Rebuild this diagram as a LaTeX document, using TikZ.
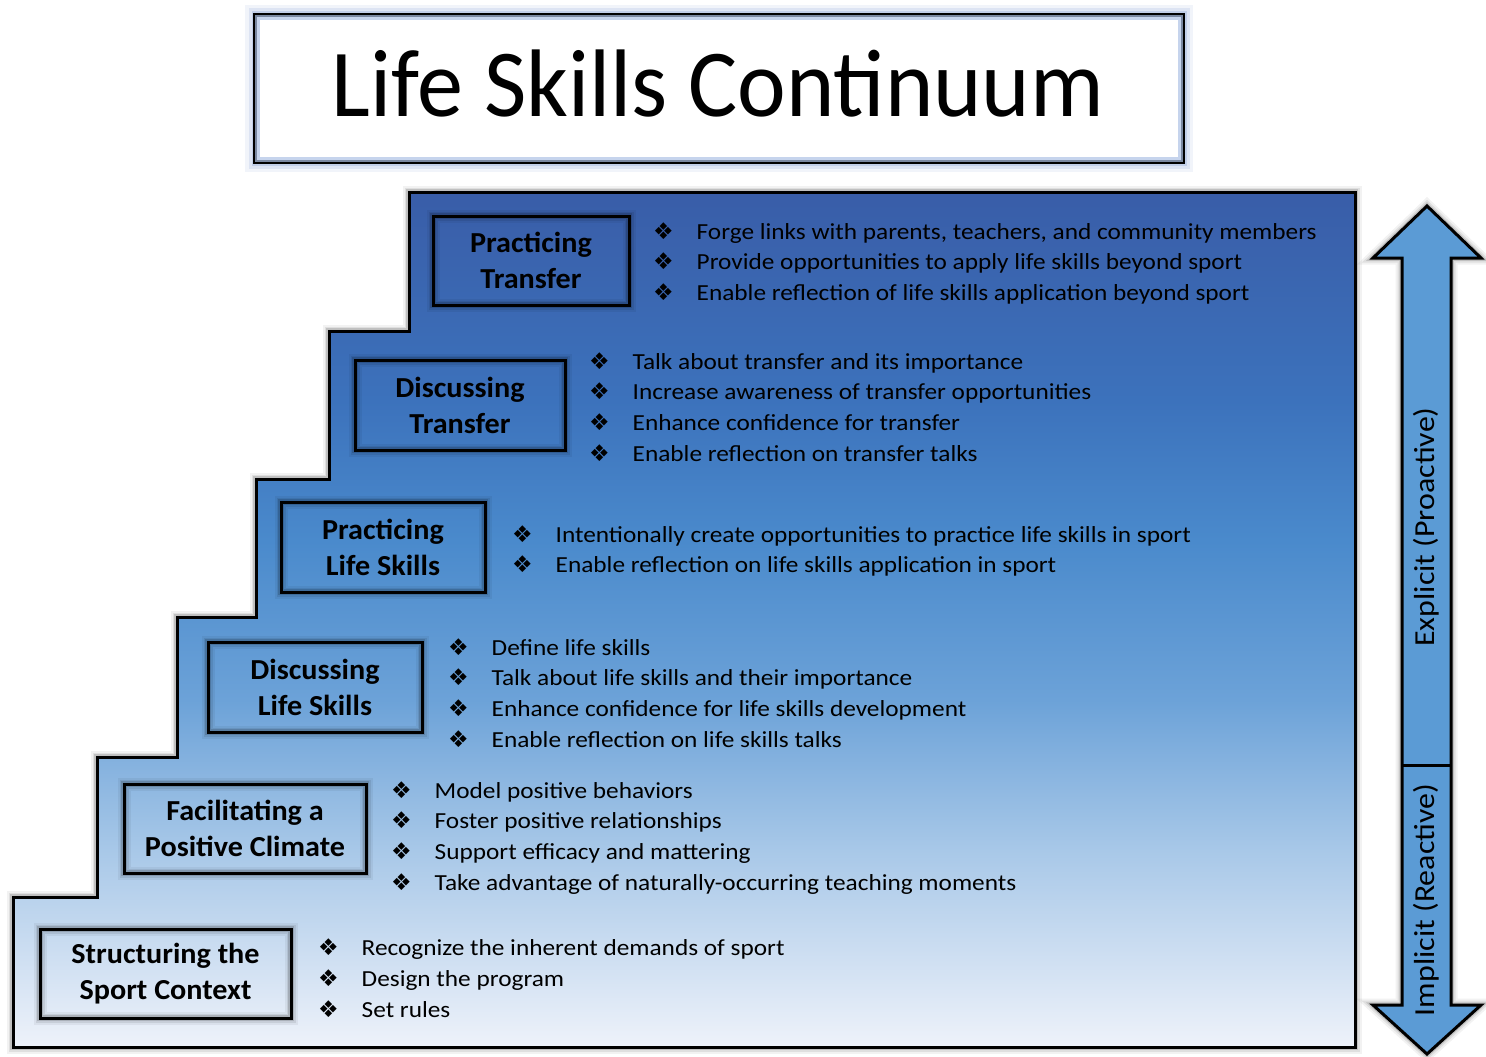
\documentclass[tikz,border=0pt]{standalone}
\usepackage{fontspec}
\setmainfont{Carlito}
\newfontfamily\dejavu{DejaVu Sans}
\newfontfamily\listfont[FakeStretch=1.1]{Carlito}
\newfontfamily\boxfont[FakeStretch=1.04]{Carlito}
\newfontfamily\titlefont[FakeStretch=0.96]{Carlito}
\usetikzlibrary{positioning}

\definecolor{stairA}{RGB}{57,93,168}
\definecolor{stairB}{RGB}{60,114,188}
\definecolor{stairC}{RGB}{74,138,204}
\definecolor{stairD}{RGB}{108,162,216}
\definecolor{stairE}{RGB}{168,200,232}
\definecolor{stairF}{RGB}{238,242,250}
\definecolor{arrowblue}{RGB}{91,155,213}
\definecolor{glowblue}{RGB}{79,115,190}
\definecolor{bandblue}{RGB}{175,195,230}

\pgfdeclareverticalshading{stairshade}{100bp}{color(0bp)=(stairF); color(25bp)=(stairF);
  color(36.5bp)=(stairE); color(45.3bp)=(stairD); color(54.6bp)=(stairC);
  color(62.8bp)=(stairB); color(75bp)=(stairA); color(100bp)=(stairA)}

\newcommand{\bul}{\makebox[43.5pt][l]{\dejavu\char"2756}}

\tikzset{
  halo/.style={preaction={draw=black,line width=13pt,opacity=.05},
               preaction={draw=black,line width=9pt,opacity=.08},
               preaction={draw=black,line width=5.5pt,opacity=.14}},
  titleglow/.style={preaction={draw=glowblue,line width=20pt,opacity=.08},
                    preaction={draw=glowblue,line width=13pt,opacity=.12},
                    preaction={draw=glowblue,line width=7pt,opacity=.2}},
  stepbox/.style={draw,line width=3pt,halo,align=center,inner sep=0pt,
                  font=\fontsize{29}{36}\boxfont\bfseries},
  bulletline/.style={anchor=base west,inner sep=0pt,font=\fontsize{23}{28}\listfont},
  sidelabel/.style={rotate=90,inner sep=0pt,font=\fontsize{29}{32}\listfont}
}

\begin{document}
\begin{tikzpicture}[x=1pt,y=1pt]
  \useasboundingbox (0,0) rectangle (1486,-1057);

  % Title
  \node[draw,line width=3.5pt,titleglow,fill=white,minimum width=928pt,minimum height=147pt,
        inner sep=0pt] (titlebox) at (719,-88.5) {};
  \draw[bandblue,line width=5pt,opacity=.7]
    ([shift={(4.5,-4.5)}]titlebox.north west) rectangle ([shift={(-4.5,4.5)}]titlebox.south east);
  \node[anchor=base,inner sep=0pt,font=\fontsize{96}{100}\titlefont] (title) at (718,-116) {Life Skills Continuum};

  % Staircase
  \path[halo,draw=black,line width=3pt,shading=stairshade]
    (409,-192) -- (1355,-192) -- (1355,-1047) -- (13,-1047) -- (13,-897) -- (97,-897)
    -- (97,-757) -- (177,-757) -- (177,-617) -- (256,-617) -- (256,-479) -- (329,-479)
    -- (329,-331) -- (409,-331) -- cycle;

  % Steps
  \node[stepbox,minimum width=196pt,minimum height=89pt] (ptrans) at (531,-260.5) {Practicing\\Transfer};
  \node[stepbox,minimum width=210pt,minimum height=90pt] (dtrans) at (460,-405) {Discussing\\Transfer};
  \node[stepbox,minimum width=204pt,minimum height=90pt] (pskills) at (383,-547) {Practicing\\Life Skills};
  \node[stepbox,minimum width=214pt,minimum height=90pt] (dskills) at (315,-687) {Discussing\\Life Skills};
  \node[stepbox,minimum width=242pt,minimum height=89pt] (climate) at (245,-828.5) {Facilitating a\\Positive Climate};
  \node[stepbox,minimum width=251pt,minimum height=89pt] (context) at (165.5,-973.5) {Structuring the\\Sport Context};

  % Bullet lists
  \foreach \txt [count=\i] in {{Forge links with parents, teachers, and community members},
      {Provide opportunities to apply life skills beyond sport},
      {Enable reflection of life skills application beyond sport}}
    \node[bulletline] (ptrans\i) at (653,{-239-30.5*(\i-1)}) {\bul\txt};
  \foreach \txt [count=\i] in {{Talk about transfer and its importance},
      {Increase awareness of transfer opportunities},
      {Enhance confidence for transfer},
      {Enable reflection on transfer talks}}
    \node[bulletline] (dtrans\i) at (589,{-369-30.7*(\i-1)}) {\bul\txt};
  \foreach \txt [count=\i] in {{Intentionally create opportunities to practice life skills in sport},
      {Enable reflection on life skills application in sport}}
    \node[bulletline] (pskills\i) at (512,{-542-30.7*(\i-1)}) {\bul\txt};
  \foreach \txt [count=\i] in {{Define life skills},
      {Talk about life skills and their importance},
      {Enhance confidence for life skills development},
      {Enable reflection on life skills talks}}
    \node[bulletline] (dskills\i) at (448,{-655-30.7*(\i-1)}) {\bul\txt};
  \foreach \txt [count=\i] in {{Model positive behaviors},
      {Foster positive relationships},
      {Support efficacy and mattering},
      {Take advantage of naturally-occurring teaching moments}}
    \node[bulletline] (climate\i) at (391,{-798-30.7*(\i-1)}) {\bul\txt};
  \foreach \txt [count=\i] in {{Recognize the inherent demands of sport},
      {Design the program},
      {Set rules}}
    \node[bulletline] (context\i) at (318,{-955-31*(\i-1)}) {\bul\txt};

  % Double arrow
  \path[halo,draw=black,line width=3pt,fill=arrowblue,line join=miter]
    (1427,-206) -- (1481,-258) -- (1451,-258) -- (1451,-1005) -- (1481,-1005) -- (1427,-1054)
    -- (1373,-1005) -- (1402,-1005) -- (1402,-258) -- (1373,-258) -- cycle;
  \draw[line width=3pt] (1402,-765) -- (1451,-765);
  \node[sidelabel] (explicit) at (1426,-527) {Explicit (Proactive)};
  \node[sidelabel] (implicit) at (1426,-900) {Implicit (Reactive)};
\end{tikzpicture}
\end{document}
